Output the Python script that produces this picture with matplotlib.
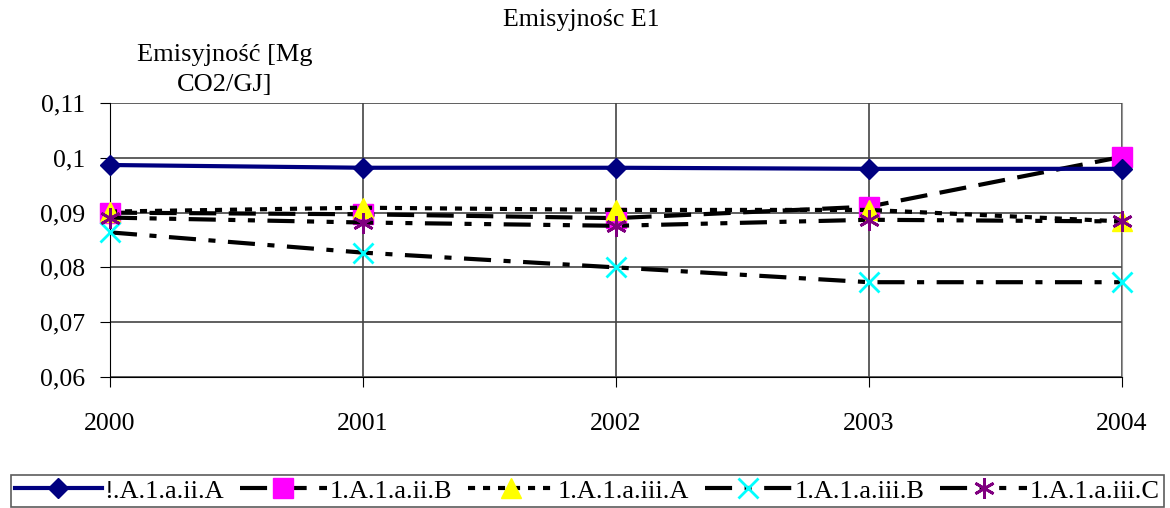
import matplotlib
matplotlib.use("Agg")
import matplotlib.pyplot as plt
from matplotlib.ticker import FuncFormatter

plt.rcParams["font.family"] = ["Liberation Serif", "DejaVu Serif"]

years = [2000, 2001, 2002, 2003, 2004]
labels = ["!.A.1.a.ii.A", "1.A.1.a.ii.B", "1.A.1.a.iii.A", "1.A.1.a.iii.B", "1.A.1.a.iii.C"]
s_ii_a = [0.0987, 0.0982, 0.0982, 0.0980, 0.0980]
s_ii_b = [0.0900, 0.0897, 0.0890, 0.0911, 0.1002]
s_iii_a = [0.0902, 0.0909, 0.0905, 0.0905, 0.0884]
s_iii_b = [0.0864, 0.0827, 0.0800, 0.0773, 0.0773]
s_iii_c = [0.0891, 0.0882, 0.0876, 0.0887, 0.0884]
y_ticks = [0.06, 0.07, 0.08, 0.09, 0.10, 0.11]

fig = plt.figure(figsize=(11.7, 5.08), dpi=100)
ax = fig.add_axes([0.094, 0.258, 0.865, 0.539])

lw = 3
ax.plot(years, s_ii_a, color="#000080", lw=lw, marker="D", ms=10.5,
        mfc="#000080", mec="#000080", label=labels[0], zorder=5, clip_on=False)
ax.plot(years, s_ii_b, color="black", lw=lw, dashes=(6.5, 3), marker="s", ms=14,
        mfc="#ff00ff", mec="#ff00ff", label=labels[1], zorder=4, clip_on=False)
ax.plot(years, s_iii_a, color="black", lw=lw, dashes=(1.7, 1.9), marker="^", ms=14,
        mfc="#ffff00", mec="#ffff00", label=labels[2], zorder=4, clip_on=False)
ax.plot(years, s_iii_b, color="black", lw=lw, dashes=(6.5, 3, 1.7, 3), marker="x", ms=14,
        mew=2, mec="#00ffff", label=labels[3], zorder=4, clip_on=False)
ax.plot(years, s_iii_c, color="black", lw=lw, dashes=(6.5, 3, 1.7, 3, 1.7, 3),
        marker=(6, 2, 0), ms=15, mew=2, mec="#800080", label=labels[4], zorder=4,
        clip_on=False)

ax.set_xlim(2000, 2004)
ax.set_ylim(0.06, 0.11)
ax.set_xticks(years)
ax.set_yticks(y_ticks)
ax.yaxis.set_major_formatter(FuncFormatter(lambda v, p: f"{v:.2f}".rstrip("0").replace(".", ",")))
ax.grid(True, color="#444444", lw=1.2)
ax.spines["top"].set_visible(False)
ax.spines["right"].set_color("#999999")
ax.spines["left"].set_color("black")
ax.spines["bottom"].set_color("black")
ax.tick_params(axis="x", length=7, direction="out", pad=19, labelsize=18.5)
ax.tick_params(axis="y", length=7, direction="out", pad=11, labelsize=18.5)

fig.text(0.497, 0.96, "Emisyjnośc E1", ha="center", va="center", fontsize=18.7)
fig.text(0.192, 0.862, "Emisyjność [Mg\nCO2/GJ]", ha="center", va="center",
         fontsize=19, linespacing=1.45)

leg = fig.legend(loc="lower left", bbox_to_anchor=(0.008, 0.0), ncol=5,
                 fontsize=19, frameon=True, fancybox=False,
                 handlelength=3.3, handletextpad=0.1, columnspacing=0.6,
                 borderpad=0.15, borderaxespad=0.05)
leg.get_frame().set_edgecolor("#333333")
leg.get_frame().set_linewidth(1.2)

fig.savefig("out.png", dpi=100)
